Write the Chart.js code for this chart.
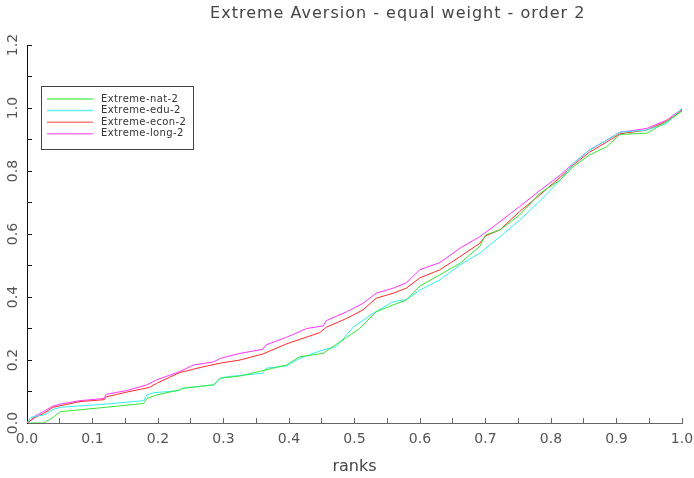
<!DOCTYPE html>
<html>
<head>
<meta charset="utf-8">
<script src="https://cdn.jsdelivr.net/npm/chart.js@4.4.1/dist/chart.umd.min.js"></script>
<style>
html,body{margin:0;padding:0;background:#fff;}
#wrap{width:694px;height:478px;}
</style>
</head>
<body>
<div id="wrap"><canvas id="c" width="694" height="478"></canvas></div>
<script>
const chartTitle = "Extreme Aversion - equal weight - order 2";
const xAxisTitle = "ranks";
const seriesLabels = ["Extreme-nat-2", "Extreme-edu-2", "Extreme-econ-2", "Extreme-long-2"];
const xTickLabels = ["0.0","0.1","0.2","0.3","0.4","0.5","0.6","0.7","0.8","0.9","1.0"];
const yTickLabels = ["0.0","0.2","0.4","0.6","0.8","1.0","1.2"];

const natX = [0,0.025,0.04,0.051,0.121,0.178,0.183,0.198,0.233,0.237,0.285,0.295,0.325,0.396,0.416,0.452,0.488,0.508,0.533,0.559,0.579,0.6,0.63,0.661,0.691,0.7,0.722,0.752,0.783,0.814,0.834,0.859,0.885,0.905,0.946,0.955,0.977,1.0];
const natY = [0,0,0.018,0.036,0.05,0.062,0.078,0.089,0.105,0.11,0.121,0.142,0.149,0.184,0.21,0.221,0.272,0.30,0.353,0.375,0.39,0.435,0.47,0.507,0.56,0.597,0.613,0.66,0.729,0.771,0.814,0.851,0.877,0.916,0.92,0.93,0.957,0.99];

const eduX = [0,0.005,0.01,0.025,0.04,0.051,0.121,0.178,0.183,0.193,0.233,0.237,0.285,0.295,0.306,0.36,0.365,0.396,0.416,0.452,0.472,0.498,0.528,0.559,0.579,0.6,0.63,0.661,0.691,0.722,0.752,0.783,0.814,0.834,0.859,0.885,0.905,0.946,0.977,1.0];
const eduY = [0,0.016,0.02,0.025,0.043,0.05,0.06,0.071,0.089,0.096,0.103,0.11,0.121,0.142,0.147,0.158,0.174,0.181,0.205,0.232,0.242,0.304,0.348,0.385,0.392,0.422,0.454,0.502,0.539,0.591,0.644,0.705,0.771,0.824,0.867,0.898,0.923,0.93,0.951,1.0];

const econX = [0,0.01,0.025,0.04,0.081,0.118,0.121,0.152,0.187,0.198,0.233,0.264,0.295,0.325,0.36,0.396,0.447,0.457,0.488,0.513,0.533,0.559,0.579,0.6,0.63,0.661,0.691,0.7,0.722,0.752,0.783,0.814,0.834,0.859,0.885,0.905,0.946,0.977,1.0];
const econY = [0,0.015,0.03,0.05,0.068,0.074,0.083,0.098,0.113,0.126,0.16,0.176,0.19,0.2,0.219,0.251,0.287,0.304,0.332,0.359,0.396,0.412,0.428,0.461,0.486,0.528,0.57,0.594,0.613,0.671,0.724,0.78,0.819,0.86,0.892,0.918,0.93,0.958,0.993];

const longX = [0,0.008,0.01,0.025,0.04,0.051,0.081,0.118,0.121,0.152,0.183,0.198,0.233,0.254,0.285,0.295,0.325,0.36,0.365,0.396,0.427,0.452,0.457,0.488,0.513,0.533,0.559,0.579,0.6,0.63,0.661,0.691,0.722,0.752,0.783,0.814,0.834,0.859,0.885,0.905,0.946,0.977,1.0];
const longY = [0,0.012,0.019,0.036,0.054,0.06,0.071,0.078,0.091,0.103,0.121,0.137,0.163,0.184,0.194,0.205,0.221,0.234,0.248,0.272,0.30,0.308,0.325,0.353,0.38,0.412,0.428,0.445,0.487,0.509,0.555,0.591,0.639,0.687,0.738,0.787,0.824,0.867,0.898,0.923,0.935,0.962,0.997];

const lineColors = ["#33e833", "#33eeee", "#ff2a2a", "#ff33ff"];
const legendColors = ["#66ee66", "#66eeee", "#ff8080", "#ff77ff"];

function pts(xs, ys){ return xs.map((x,i)=>({x:x, y:ys[i]})); }
const allX = [natX, eduX, econX, longX];
const allY = [natY, eduY, econY, longY];

const datasets = seriesLabels.map((lab,i)=>({
  label: lab,
  data: pts(allX[i], allY[i]),
  borderColor: lineColors[i],
  backgroundColor: lineColors[i],
  borderWidth: 1,
  pointRadius: 0,
  fill: false,
  tension: 0
}));

const titleAndLegend = {
  id: 'titleAndLegend',
  afterDraw(chart){
    const ctx = chart.ctx;
    const a = chart.chartArea;
    ctx.save();
    ctx.font = '16px "DejaVu Sans"';
    ctx.letterSpacing = '1px';
    ctx.fillStyle = '#444';
    ctx.textAlign = 'center';
    ctx.textBaseline = 'middle';
    ctx.fillText(chartTitle, a.left + (a.right - a.left) * 0.566, 14);
    ctx.restore();

    ctx.save();
    const bx = a.left + 14, by = a.top + 41, bw = 152, bh = 63;
    ctx.fillStyle = '#fff';
    ctx.fillRect(bx, by, bw, bh);
    ctx.strokeStyle = '#444';
    ctx.lineWidth = 1;
    ctx.strokeRect(bx + 0.5, by + 0.5, bw, bh);
    ctx.font = '10px "DejaVu Sans"';
    ctx.letterSpacing = '0.4px';
    ctx.textBaseline = 'middle';
    ctx.textAlign = 'left';
    chart.data.datasets.forEach((ds, i) => {
      const y = by + 13 + i * 11.6;
      ctx.strokeStyle = legendColors[i];
      ctx.lineWidth = 1.5;
      ctx.beginPath();
      ctx.moveTo(bx + 6, y);
      ctx.lineTo(bx + 52, y);
      ctx.stroke();
      ctx.fillStyle = '#333';
      ctx.fillText(ds.label, bx + 60, y);
    });
    ctx.restore();
  }
};

new Chart(document.getElementById('c'), {
  type: 'line',
  data: { datasets: datasets },
  options: {
    responsive: false,
    animation: false,
    devicePixelRatio: 1,
    layout: { padding: { left: 0, right: 12, top: 45, bottom: 0 } },
    plugins: {
      legend: { display: false },
      tooltip: { enabled: false },
      title: { display: false }
    },
    scales: {
      x: {
        type: 'linear',
        min: 0, max: 1,
        afterFit(s){ s.height = 55; s.paddingLeft = 0; s.paddingRight = 0; },
        border: { color: '#666', width: 1 },
        grid: { drawOnChartArea: false, drawTicks: true, tickLength: -5, tickColor: '#666' },
        ticks: {
          stepSize: 0.05,
          autoSkip: false,
          maxRotation: 0,
          padding: 13,
          color: '#555',
          font: { family: '"DejaVu Sans"', size: 14 },
          callback: (v) => { const k = Math.round(v * 20); return k % 2 === 0 ? xTickLabels[k / 2] : ''; }
        },
        title: {
          display: true,
          text: xAxisTitle,
          color: '#444',
          font: { family: '"DejaVu Sans"', size: 16, lineHeight: 1.2 },
          padding: { top: 0, bottom: 2 }
        }
      },
      y: {
        type: 'linear',
        min: 0, max: 1.2,
        afterFit(s){ s.width = 27; s.paddingTop = 0; s.paddingBottom = 0; },
        border: { color: '#111', width: 1 },
        grid: { drawOnChartArea: false, drawTicks: true, tickLength: -5, tickColor: '#111' },
        ticks: {
          stepSize: 0.1,
          autoSkip: false,
          minRotation: 90,
          maxRotation: 90,
          crossAlign: 'center',
          padding: 8,
          color: '#555',
          font: { family: '"DejaVu Sans"', size: 14 },
          callback: (v) => { const k = Math.round(v * 10); return k % 2 === 0 ? yTickLabels[k / 2] : ''; }
        }
      }
    }
  },
  plugins: [titleAndLegend]
});
</script>
</body>
</html>
